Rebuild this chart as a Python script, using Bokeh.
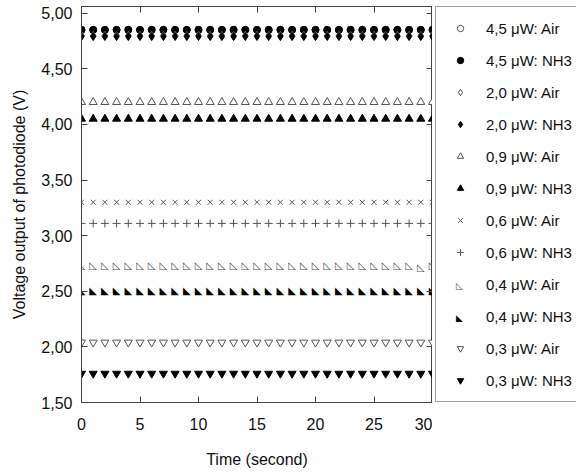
from bokeh.plotting import figure
from bokeh.layouts import row
from bokeh.models import (Range1d, LinearAxis, FixedTicker, Legend, LegendItem,
                          CustomJSTickFormatter, Label)
from bokeh.core.properties import value
from bokeh.embed import file_html
from bokeh.resources import INLINE

time_s = [0, 1, 2, 3, 4, 5, 6, 7, 8, 9, 10, 11, 12, 13, 14, 15,
          16, 17, 18, 19, 20, 21, 22, 23, 24, 25, 26, 27, 28, 29, 30]

air_45 = [4.85, 4.85, 4.85, 4.85, 4.85, 4.85, 4.85, 4.85, 4.85, 4.85, 4.85,
          4.85, 4.85, 4.85, 4.85, 4.85, 4.85, 4.85, 4.85, 4.85, 4.85, 4.85,
          4.85, 4.85, 4.85, 4.85, 4.85, 4.85, 4.85, 4.85, 4.85]
nh3_45 = [4.85, 4.85, 4.85, 4.85, 4.85, 4.85, 4.85, 4.85, 4.85, 4.85, 4.85,
          4.85, 4.85, 4.85, 4.85, 4.85, 4.85, 4.85, 4.85, 4.85, 4.85, 4.85,
          4.85, 4.85, 4.85, 4.85, 4.85, 4.85, 4.85, 4.85, 4.85]
air_20 = [4.80, 4.80, 4.80, 4.80, 4.80, 4.80, 4.80, 4.80, 4.80, 4.80, 4.80,
          4.80, 4.80, 4.80, 4.80, 4.80, 4.80, 4.80, 4.80, 4.80, 4.80, 4.80,
          4.80, 4.80, 4.80, 4.80, 4.80, 4.80, 4.80, 4.80, 4.80]
nh3_20 = [4.79, 4.79, 4.79, 4.79, 4.79, 4.79, 4.79, 4.79, 4.79, 4.79, 4.79,
          4.79, 4.79, 4.79, 4.79, 4.79, 4.79, 4.79, 4.79, 4.79, 4.79, 4.79,
          4.79, 4.79, 4.79, 4.79, 4.79, 4.79, 4.79, 4.79, 4.79]
air_09 = [4.20, 4.20, 4.20, 4.20, 4.20, 4.20, 4.20, 4.20, 4.20, 4.20, 4.20,
          4.20, 4.20, 4.20, 4.20, 4.20, 4.20, 4.20, 4.20, 4.20, 4.20, 4.20,
          4.20, 4.20, 4.20, 4.20, 4.20, 4.20, 4.20, 4.20, 4.20]
nh3_09 = [4.05, 4.05, 4.05, 4.05, 4.05, 4.05, 4.05, 4.05, 4.05, 4.05, 4.05,
          4.05, 4.05, 4.05, 4.05, 4.05, 4.05, 4.05, 4.05, 4.05, 4.05, 4.05,
          4.05, 4.05, 4.05, 4.05, 4.05, 4.05, 4.05, 4.05, 4.05]
air_06 = [3.30, 3.30, 3.30, 3.30, 3.30, 3.30, 3.30, 3.30, 3.30, 3.30, 3.30,
          3.30, 3.30, 3.30, 3.30, 3.30, 3.30, 3.30, 3.30, 3.30, 3.30, 3.30,
          3.30, 3.30, 3.30, 3.30, 3.30, 3.30, 3.30, 3.30, 3.30]
nh3_06 = [3.11, 3.11, 3.11, 3.11, 3.11, 3.11, 3.11, 3.11, 3.11, 3.11, 3.11,
          3.11, 3.11, 3.11, 3.11, 3.11, 3.11, 3.11, 3.11, 3.11, 3.11, 3.11,
          3.11, 3.11, 3.11, 3.11, 3.11, 3.11, 3.11, 3.11, 3.11]
air_04 = [2.73, 2.73, 2.73, 2.73, 2.73, 2.73, 2.73, 2.73, 2.73, 2.73, 2.73,
          2.73, 2.73, 2.73, 2.73, 2.73, 2.73, 2.73, 2.73, 2.73, 2.73, 2.73,
          2.73, 2.73, 2.73, 2.73, 2.73, 2.73, 2.73, 2.71, 2.73]
nh3_04 = [2.51, 2.51, 2.51, 2.51, 2.51, 2.51, 2.51, 2.51, 2.51, 2.51, 2.51,
          2.51, 2.51, 2.51, 2.51, 2.51, 2.51, 2.51, 2.51, 2.51, 2.51, 2.51,
          2.51, 2.51, 2.51, 2.51, 2.51, 2.51, 2.51, 2.51, 2.51]
air_03 = [2.04, 2.04, 2.04, 2.04, 2.04, 2.04, 2.04, 2.04, 2.04, 2.04, 2.04,
          2.04, 2.04, 2.04, 2.04, 2.04, 2.04, 2.04, 2.04, 2.04, 2.04, 2.04,
          2.04, 2.04, 2.04, 2.04, 2.04, 2.04, 2.04, 2.04, 2.04]
nh3_03 = [1.76, 1.76, 1.76, 1.76, 1.76, 1.76, 1.76, 1.76, 1.76, 1.76, 1.76,
          1.76, 1.76, 1.76, 1.76, 1.76, 1.76, 1.76, 1.76, 1.76, 1.76, 1.76,
          1.76, 1.76, 1.76, 1.76, 1.76, 1.76, 1.76, 1.76, 1.76]

x_ticks = [0, 5, 10, 15, 20, 25, 30]
y_ticks = [1.5, 2.0, 2.5, 3.0, 3.5, 4.0, 4.5, 5.0]

FONT = "Liberation Sans"
AX = "#444444"
GRAY = "#555555"
H = 472

p = figure(width=432, height=H, x_range=Range1d(0, 30), y_range=Range1d(1.5, 5.06),
           output_backend="svg", toolbar_location=None,
           min_border_left=81, min_border_top=6, min_border_right=0, min_border_bottom=70)
p.grid.visible = False
p.outline_line_color = AX
p.background_fill_color = "white"
p.border_fill_color = "white"

fmt = CustomJSTickFormatter(code="return tick.toFixed(2).replace('.', ',');")
blank = CustomJSTickFormatter(code="return '';")

for ax in (p.xaxis[0], p.yaxis[0]):
    ax.major_tick_in = 6
    ax.major_tick_out = 0
    ax.minor_tick_in = 0
    ax.minor_tick_out = 0
    ax.axis_line_color = AX
    ax.major_tick_line_color = AX
    ax.major_label_text_font = FONT
    ax.major_label_text_font_size = "16px"
    ax.major_label_text_color = "#111111"
    ax.axis_label_text_font = FONT
    ax.axis_label_text_font_size = "16px"
    ax.axis_label_text_font_style = "normal"
    ax.axis_label_text_color = "#111111"

p.xaxis[0].ticker = FixedTicker(ticks=x_ticks)
p.xaxis[0].axis_label = "Time (second)"
p.xaxis[0].major_label_standoff = 15
p.xaxis[0].axis_label_standoff = 18

p.yaxis[0].ticker = FixedTicker(ticks=y_ticks)
p.yaxis[0].formatter = fmt
p.yaxis[0].axis_label = "Voltage output of photodiode (V)"
p.yaxis[0].major_label_standoff = 9
p.yaxis[0].axis_label_standoff = 10

top_ax = LinearAxis(ticker=FixedTicker(ticks=x_ticks), formatter=blank,
                    major_label_text_font_size="1px",
                    major_label_standoff=0, major_tick_in=6, major_tick_out=0,
                    minor_tick_in=0, minor_tick_out=0, axis_line_color=AX,
                    major_tick_line_color=AX)
p.add_layout(top_ax, "above")
right_ax = LinearAxis(ticker=FixedTicker(ticks=y_ticks), formatter=blank,
                      major_label_text_font_size="1px",
                      major_label_standoff=0, major_tick_in=6, major_tick_out=0,
                      minor_tick_in=0, minor_tick_out=0, axis_line_color=AX,
                      major_tick_line_color=AX)
p.add_layout(right_ax, "right")

# legend panel (its frame is aligned with the main plot's frame)
q = figure(width=144, height=H, x_range=Range1d(0, 1), y_range=Range1d(0, 1),
           output_backend="svg", toolbar_location=None, x_axis_type=None,
           y_axis_type=None, min_border=0)
q.grid.visible = False
q.outline_line_color = None
q.background_fill_color = "white"
q.border_fill_color = "white"

items = []

def sc(y, marker, label, filled, size=7):
    if filled:
        kw = dict(marker=marker, size=size, fill_color="black", line_color="black",
                  line_width=1)
    else:
        kw = dict(marker=marker, size=size, fill_color="white", line_color=GRAY,
                  line_width=1)
    p.scatter(time_s, y, **kw)
    # proxy renderer for the legend: its single point lies outside q's ranges
    r = q.scatter(time_s[:1], y[:1], **kw)
    items.append(LegendItem(label=label, renderers=[r]))

def tx(y, ch, label, color):
    p.text(time_s, y, text=value(ch), text_font=value("DejaVu Sans"),
           text_font_size=value("10px"), text_align="center",
           text_baseline="middle", text_color=color)
    r = q.scatter(time_s[:1], y[:1], marker="circle", size=1, line_alpha=0,
                  fill_alpha=0)
    items.append(LegendItem(label=label, renderers=[r]))

sc(air_45, "circle", "4,5 μW: Air", False)
sc(nh3_45, "circle", "4,5 μW: NH3", True)
sc(air_20, "diamond", "2,0 μW: Air", False, 8)
sc(nh3_20, "diamond", "2,0 μW: NH3", True, 8)
sc(air_09, "triangle", "0,9 μW: Air", False, 8)
sc(nh3_09, "triangle", "0,9 μW: NH3", True, 8)
sc(air_06, "x", "0,6 μW: Air", False, 7)
sc(nh3_06, "cross", "0,6 μW: NH3", False, 8)
tx(air_04, "◺", "0,4 μW: Air", GRAY)
tx(nh3_04, "◣", "0,4 μW: NH3", "black")
sc(air_03, "inverted_triangle", "0,3 μW: Air", False, 8)
sc(nh3_03, "inverted_triangle", "0,3 μW: NH3", True, 8)

LEG_LEFT = 3
LEG_BOTTOM = 0
PAD = 10
ITEM_H = 22
GLYPH_H = 16
SPACE = 10
GLYPH_W = 28
legend = Legend(items=items, location=(LEG_LEFT, LEG_BOTTOM), margin=0, padding=PAD,
                spacing=SPACE, label_height=ITEM_H, glyph_height=GLYPH_H,
                glyph_width=GLYPH_W, label_standoff=12, label_text_font=FONT,
                label_text_font_size="15px", label_text_color="#111111",
                border_line_color=AX, border_line_width=1,
                background_fill_color="white", background_fill_alpha=0)
q.add_layout(legend)

n_items = len(items)
leg_h = 2 * PAD + n_items * ITEM_H + (n_items - 1) * SPACE
for i, ch, col in ((8, "◺", GRAY), (9, "◣", "black")):
    yc = LEG_BOTTOM + leg_h - PAD - ITEM_H / 2 - i * (ITEM_H + SPACE)
    q.add_layout(Label(x=LEG_LEFT + PAD + GLYPH_W / 2, y=yc,
                       x_units="screen", y_units="screen", text=ch,
                       text_font="DejaVu Sans", text_font_size="9px",
                       text_color=col, text_align="center", text_baseline="middle"))

layout = row(p, q)
open("out.html", "w").write(file_html(layout, INLINE))
